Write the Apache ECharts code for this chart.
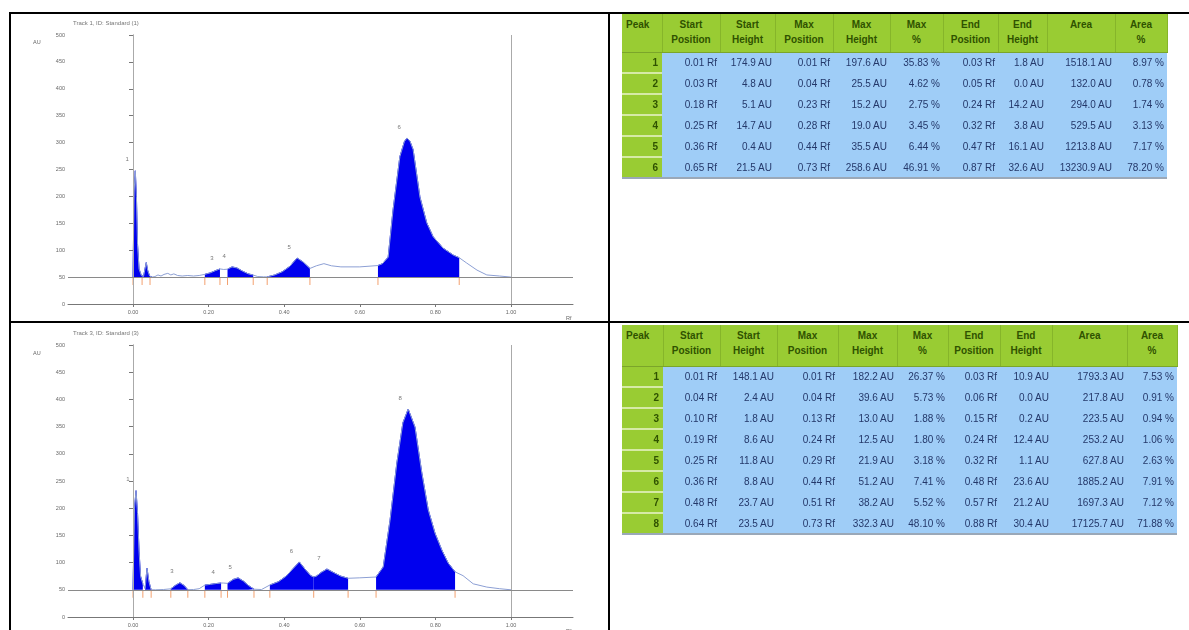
<!DOCTYPE html>
<html><head><meta charset="utf-8">
<script src="https://cdn.jsdelivr.net/npm/echarts@6/dist/echarts.min.js"></script>
<style>
html,body{margin:0;padding:0;background:#fff;width:1189px;height:630px;overflow:hidden;font-family:"Liberation Sans",Arial,sans-serif;}
#chart{position:absolute;left:0;top:0;width:1189px;height:630px;}
.ln{position:absolute;background:#000;}
table.pk{position:absolute;border-collapse:collapse;font-size:10px;table-layout:fixed;}
table.pk th{background:#99cc33;color:#2f5200;font-weight:bold;vertical-align:top;text-align:center;line-height:15px;padding:3px 0 0 0;border-right:1px solid #86b52a;border-bottom:1px solid #7ba52a;}
table.pk th.first{text-align:left;padding-left:4px;}
table.pk td{background:#9fcdf7;color:#24386a;text-align:right;padding:0 3px 0 0;white-space:nowrap;overflow:hidden;}
table.pk td.no{background:#99cc33;color:#2f5200;font-weight:bold;border-bottom:2px solid #d6eaa6;padding-right:4px;}
table.pk tr.last td{border-bottom:2px solid #9aa8b8;}
</style></head>
<body>
<div id="chart"></div>
<div class="ln" style="left:9px;top:12px;width:1180px;height:2px;"></div>
<div class="ln" style="left:9px;top:12px;width:2px;height:618px;"></div>
<div class="ln" style="left:608px;top:12px;width:2px;height:618px;"></div>
<div class="ln" style="left:9px;top:321px;width:1180px;height:2px;"></div>
<script>
// ---------------- chart data ----------------
const BASE = 50; // AU baseline of the densitogram
const xTicks = [0, 0.2, 0.4, 0.6, 0.8, 1.0];

// Track (top) curve: Rf positions and heights above baseline (AU)
const topRf = [0.000,0.003,0.006,0.009,0.012,0.016,0.022,0.028,0.031,0.035,0.039,0.044,0.050,0.058,0.066,0.074,0.082,0.092,0.100,0.108,0.118,0.130,0.145,0.160,0.175,0.190,0.205,0.218,0.230,0.240,0.250,0.262,0.275,0.290,0.305,0.318,0.330,0.345,0.355,0.375,0.395,0.415,0.434,0.450,0.468,0.485,0.505,0.525,0.550,0.600,0.648,0.660,0.675,0.688,0.706,0.718,0.725,0.733,0.741,0.759,0.777,0.794,0.820,0.847,0.863,0.883,0.910,0.936,0.970,1.000];
const topH  = [0,160,197.6,150,60,15,3,1.8,4.8,27,12,2,0,1,4,2,5,7,4,6,3,2,3,2,3,5.1,8,12,15.2,14.2,14.7,19.0,17,11,6,3.8,1,0.5,0.4,4,10,20,35.5,28,16.1,21,25,21,19,19,21.5,25,37,125,224,252,258.6,252,237,149,101,75,54,41,36,26,13,4,2,0];
const topFillStart = [0.000,0.028,0.190,0.250,0.355,0.648];
const topFillEnd   = [0.028,0.050,0.230,0.318,0.468,0.863];
const topBounds = [0.000,0.024,0.045,0.190,0.230,0.250,0.318,0.355,0.468,0.648,0.863];
const topLabelNo = ['1','3','4','5','6'];
const topLabelRf = [0.006,0.230,0.262,0.434,0.725];
const topLabelH  = [197.6,15.2,19.0,35.5,258.6];

// Track (bottom) curve
const botRf = [0.000,0.004,0.008,0.012,0.016,0.020,0.026,0.032,0.037,0.042,0.048,0.060,0.080,0.100,0.112,0.124,0.135,0.145,0.160,0.175,0.190,0.205,0.220,0.233,0.240,0.250,0.265,0.278,0.292,0.305,0.320,0.340,0.362,0.385,0.405,0.425,0.440,0.455,0.470,0.478,0.485,0.498,0.513,0.530,0.550,0.569,0.600,0.643,0.662,0.680,0.698,0.714,0.728,0.746,0.764,0.781,0.799,0.817,0.834,0.852,0.873,0.900,0.936,0.970,1.000];
const botH  = [0,150,182.2,140,70,25,10.9,2.4,39.6,15,0,0,0.5,1.8,8,13.0,8,0.2,0.5,2,8.6,10,11.5,12.5,12.4,11.8,19,21.9,16,8,1.1,0.5,8.8,15,25,40,51.2,38,26,23.6,25,32,38.2,32,25,21.2,22,23.5,42,128,233,307,332.3,299,215,147,104,73,49,33,26,11,5,2,0];
const botFillStart = [0.000,0.032,0.100,0.190,0.250,0.362,0.478,0.643];
const botFillEnd   = [0.026,0.048,0.145,0.233,0.320,0.478,0.569,0.852];
const botBounds = [0.000,0.026,0.048,0.100,0.145,0.190,0.233,0.250,0.320,0.362,0.478,0.569,0.643,0.852];
const botLabelNo = ['1','3','4','5','6','7','8'];
const botLabelRf = [0.008,0.124,0.233,0.278,0.440,0.513,0.728];
const botLabelH  = [182.2,13.0,12.5,21.9,51.2,38.2,332.3];

const titles = ['Track 1, ID: Standard (1)', 'Track 3, ID: Standard (3)'];

// ---------------- table data ----------------
const headers = ['Peak','Start<br>Position','Start<br>Height','Max<br>Position','Max<br>Height','Max<br>%','End<br>Position','End<br>Height','Area','Area<br>%'];
const t1Peak = [1,2,3,4,5,6];
const t1StartPos = [0.01,0.03,0.18,0.25,0.36,0.65];
const t1StartH = [174.9,4.8,5.1,14.7,0.4,21.5];
const t1MaxPos = [0.01,0.04,0.23,0.28,0.44,0.73];
const t1MaxH = [197.6,25.5,15.2,19.0,35.5,258.6];
const t1MaxPct = [35.83,4.62,2.75,3.45,6.44,46.91];
const t1EndPos = [0.03,0.05,0.24,0.32,0.47,0.87];
const t1EndH = [1.8,0.0,14.2,3.8,16.1,32.6];
const t1Area = [1518.1,132.0,294.0,529.5,1213.8,13230.9];
const t1AreaPct = [8.97,0.78,1.74,3.13,7.17,78.20];

const t2Peak = [1,2,3,4,5,6,7,8];
const t2StartPos = [0.01,0.04,0.10,0.19,0.25,0.36,0.48,0.64];
const t2StartH = [148.1,2.4,1.8,8.6,11.8,8.8,23.7,23.5];
const t2MaxPos = [0.01,0.04,0.13,0.24,0.29,0.44,0.51,0.73];
const t2MaxH = [182.2,39.6,13.0,12.5,21.9,51.2,38.2,332.3];
const t2MaxPct = [26.37,5.73,1.88,1.80,3.18,7.41,5.52,48.10];
const t2EndPos = [0.03,0.06,0.15,0.24,0.32,0.48,0.57,0.88];
const t2EndH = [10.9,0.0,0.2,12.4,1.1,23.6,21.2,30.4];
const t2Area = [1793.3,217.8,223.5,253.2,627.8,1885.2,1697.3,17125.7];
const t2AreaPct = [7.53,0.91,0.94,1.06,2.63,7.91,7.12,71.88];

// ---------------- build tables ----------------
function buildTable(cfg){
  const t = document.createElement('table');
  t.className = 'pk';
  t.style.left = cfg.left + 'px'; t.style.top = cfg.top + 'px';
  let w = cfg.widths.reduce((a,b)=>a+b,0);
  t.style.width = w + 'px';
  let html = '<colgroup>' + cfg.widths.map(v=>'<col style="width:'+v+'px">').join('') + '</colgroup>';
  html += '<tr style="height:'+cfg.headH+'px">' + headers.map((h,i)=>'<th'+(i===0?' class="first"':'')+'>'+h+'</th>').join('') + '</tr>';
  const n = cfg.peak.length;
  for (let i=0;i<n;i++){
    html += '<tr style="height:'+cfg.rowH+'px"'+(i===n-1?' class="last"':'')+'>';
    html += '<td class="no">'+cfg.peak[i]+'</td>';
    html += '<td>'+cfg.sp[i].toFixed(2)+' Rf</td>';
    html += '<td>'+cfg.sh[i].toFixed(1)+' AU</td>';
    html += '<td>'+cfg.mp[i].toFixed(2)+' Rf</td>';
    html += '<td>'+cfg.mh[i].toFixed(1)+' AU</td>';
    html += '<td>'+cfg.mpc[i].toFixed(2)+' %</td>';
    html += '<td>'+cfg.ep[i].toFixed(2)+' Rf</td>';
    html += '<td>'+cfg.eh[i].toFixed(1)+' AU</td>';
    html += '<td>'+cfg.ar[i].toFixed(1)+' AU</td>';
    html += '<td>'+cfg.apc[i].toFixed(2)+' %</td>';
    html += '</tr>';
  }
  t.innerHTML = html;
  document.body.appendChild(t);
}
buildTable({left:622, top:14, widths:[40,58,55,58,57,53,55,49,68,52], headH:38, rowH:21,
  peak:t1Peak, sp:t1StartPos, sh:t1StartH, mp:t1MaxPos, mh:t1MaxH, mpc:t1MaxPct, ep:t1EndPos, eh:t1EndH, ar:t1Area, apc:t1AreaPct});
buildTable({left:622, top:325, widths:[41,57,57,61,59,51,52,52,75,50], headH:41, rowH:21,
  peak:t2Peak, sp:t2StartPos, sh:t2StartH, mp:t2MaxPos, mh:t2MaxH, mpc:t2MaxPct, ep:t2EndPos, eh:t2EndH, ar:t2Area, apc:t2AreaPct});

// ---------------- chart ----------------
const chart = echarts.init(document.getElementById('chart'), null, {renderer:'canvas'});
const grids = [
  {left:68, top:35, width:505, height:269, outerBoundsMode:'none'},
  {left:68, top:345, width:505, height:272, outerBoundsMode:'none'}
];
function xAxisCfg(gi){
  return {type:'value', gridIndex:gi, min:-0.172, max:1.164,
    axisLine:{show:true, onZero:false, lineStyle:{color:'#777', width:1}},
    axisTick:{show:true, customValues:xTicks, length:3, lineStyle:{color:'#777'}},
    axisLabel:{show:true, customValues:xTicks, formatter:v=>v.toFixed(2), fontSize:5.5, color:'#666', margin:5},
    splitLine:{show:false},
    name:'Rf', nameLocation:'end', nameGap:-7,
    nameTextStyle:{fontSize:5.5, color:'#666', verticalAlign:'top', padding:[11,0,0,0]}
  };
}
function yAxisCfg(gi){
  return {type:'value', gridIndex:gi, min:0, max:500, interval:50,
    axisLine:{show:true, lineStyle:{color:'#777', width:1}},
    axisTick:{show:true, length:4, lineStyle:{color:'#777'}},
    axisLabel:{fontSize:5.5, color:'#666', margin:3},
    splitLine:{show:false}
  };
}
function pts(rf,h){ return rf.map((r,i)=>[r, BASE + h[i]]); }
function panelSeries(gi, rf, h, fs, fe, bounds, lNo, lRf, lH){
  const s = [];
  const all = pts(rf,h);
  for (let k=0;k<fs.length;k++){
    s.push({type:'line', xAxisIndex:gi, yAxisIndex:gi, z:2, symbol:'none', silent:true,
      data: all.filter(p=>p[0]>=fs[k]-1e-9 && p[0]<=fe[k]+1e-9),
      lineStyle:{color:'#0000ee', width:1},
      areaStyle:{color:'#0000ee', opacity:1, origin:BASE}});
  }
  s.push({type:'line', xAxisIndex:gi, yAxisIndex:gi, z:3, symbol:'none', silent:true,
    data: all, lineStyle:{color:'#8c9fd4', width:1},
    markLine:{silent:true, symbol:'none', label:{show:false}, animation:false,
      lineStyle:{color:'#aaaaaa', type:'solid', width:1},
      data:[{xAxis:0},{xAxis:1},{yAxis:BASE, lineStyle:{color:'#8a8a8a'}}]}});
  s.push({type:'scatter', xAxisIndex:gi, yAxisIndex:gi, z:4, silent:true,
    symbol:'rect', symbolSize:[1,8], symbolOffset:[0,4], itemStyle:{color:'#f08a4b'},
    data: bounds.map(b=>[b, BASE])});
  s.push({type:'scatter', xAxisIndex:gi, yAxisIndex:gi, z:5, silent:true,
    symbolSize:0, data: lRf.map((r,i)=>[r, BASE + lH[i]]),
    label:{show:true, position:'inside', offset:[-8,-11], fontSize:6, color:'#555',
      formatter:p=>lNo[p.dataIndex]}});
  return s;
}
const option = {
  animation:false,
  title: titles.map((t,i)=>({text:t, left:68, top: i===0 ? 15 : 325,
    textStyle:{fontSize:6, color:'#777', fontWeight:'normal'}})),
  graphic: [
    {type:'text', left:33, top:39, style:{text:'AU', fontSize:5.5, fill:'#666'}},
    {type:'text', left:33, top:350, style:{text:'AU', fontSize:5.5, fill:'#666'}}
  ],
  grid: grids,
  xAxis: [xAxisCfg(0), xAxisCfg(1)],
  yAxis: [yAxisCfg(0), yAxisCfg(1)],
  series: [].concat(
    panelSeries(0, topRf, topH, topFillStart, topFillEnd, topBounds, topLabelNo, topLabelRf, topLabelH),
    panelSeries(1, botRf, botH, botFillStart, botFillEnd, botBounds, botLabelNo, botLabelRf, botLabelH)
  )
};
chart.setOption(option);
</script>
</body></html>
